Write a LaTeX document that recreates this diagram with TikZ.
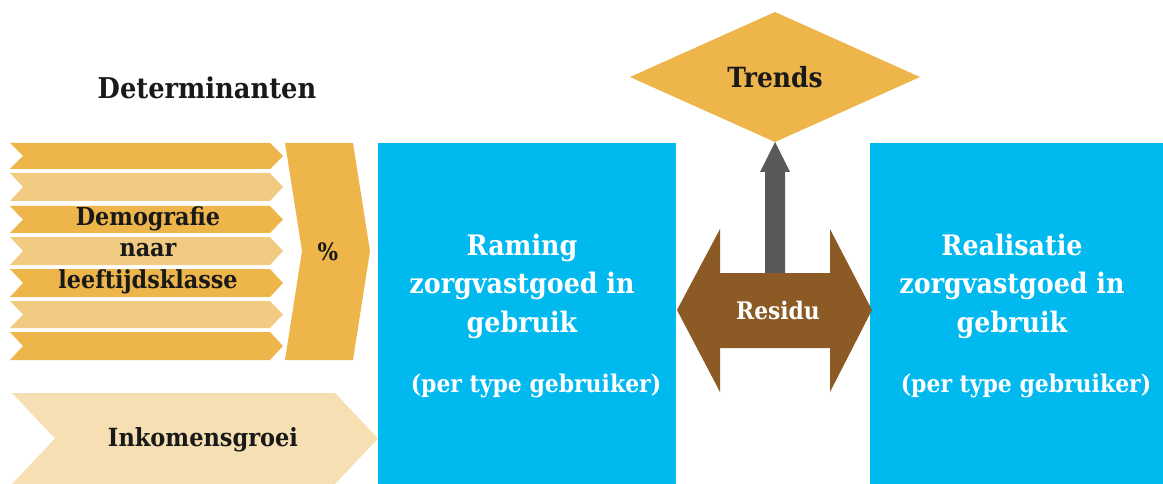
\documentclass[tikz,border=0pt]{standalone}
\usepackage{fontspec}
\setmainfont{DejaVu Serif Condensed}
\definecolor{gold}{HTML}{EDB54A}
\definecolor{goldlight}{HTML}{F2CB82}
\definecolor{goldpale}{HTML}{F6DFB3}
\definecolor{sky}{HTML}{00B9EF}
\definecolor{brownish}{HTML}{8C5A24}
\definecolor{slate}{HTML}{58595B}
\begin{document}
\begin{tikzpicture}[x=1pt,y=-1pt,
  shape/.style={fill=#1,draw=none},
  darktext/.style={text=black!90,inner sep=0pt,align=center},
  whitetext/.style={text=white,inner sep=0pt,align=center}]
\useasboundingbox (0,0) rectangle (1163,484);
% blue boxes
\path[shape=sky] (378,143) rectangle (676,484);
\path[shape=sky] (870,143) rectangle (1163,484);
% demography chevrons
\foreach \ya/\yb/\c in {143/169/gold,173/201/goldlight,206/233/gold,237/265/goldlight,269/297/gold,301/328/goldlight,332/360/gold}{
  \path[shape=\c] (10,\ya) -- (270,\ya) -- (283,{(\ya+\yb)/2}) -- (270,\yb) -- (10,\yb) -- (23,{(\ya+\yb)/2}) -- cycle;
}
% percentage chevron
\path[shape=gold] (285,143) -- (353,143) -- (370,251) -- (353,360) -- (285,360) -- (302,251) -- cycle;
% income chevron
\path[shape=goldpale] (12,393) -- (335,393) -- (378,438.5) -- (335,484) -- (12,484) -- (55,438.5) -- cycle;
% trends diamond
\path[shape=gold] (630,77) -- (775,12) -- (920,77) -- (775,142) -- cycle;
% grey arrow
\path[shape=slate] (765,275) -- (765,172) -- (760,172) -- (775,142) -- (790,172) -- (785,172) -- (785,275) -- cycle;
% brown double arrow
\path[shape=brownish] (677,310) -- (720,229) -- (720,273) -- (830,273) -- (830,229) -- (872,310) -- (830,392) -- (830,348) -- (720,348) -- (720,392) -- cycle;
% texts
\node[darktext,font=\bfseries\fontsize{28.6}{32}\selectfont] (det) at (207,88) {Determinanten};
\node[darktext,font=\bfseries\fontsize{27.8}{32}\selectfont] (trends) at (775,77) {Trends};
\node[darktext,font=\bfseries\fontsize{24.8}{31.5}\selectfont] (demo) at (148,250) {Demografie\\naar\\leeftijdsklasse};
\node[darktext,font=\bfseries\fontsize{24}{28}\selectfont] (pct) at (328,252) {\%};
\node[darktext,font=\bfseries\fontsize{25}{28}\selectfont] (inko) at (203,440) {Inkomensgroei};
\node[whitetext,font=\bfseries\fontsize{28.2}{38.5}\selectfont] (raming) at (522,286) {Raming\\zorgvastgoed in\\gebruik};
\node[whitetext,font=\bfseries\fontsize{24.4}{28}\selectfont] (ramingsub) at (536,386) {(per type gebruiker)};
\node[whitetext,font=\bfseries\fontsize{28.2}{38.5}\selectfont] (real) at (1012,286) {Realisatie\\zorgvastgoed in\\gebruik};
\node[whitetext,font=\bfseries\fontsize{24.4}{28}\selectfont] (realsub) at (1026,386) {(per type gebruiker)};
\node[whitetext,font=\bfseries\fontsize{24.2}{28}\selectfont] (residu) at (778,310) {Residu};
\end{tikzpicture}
\end{document}
